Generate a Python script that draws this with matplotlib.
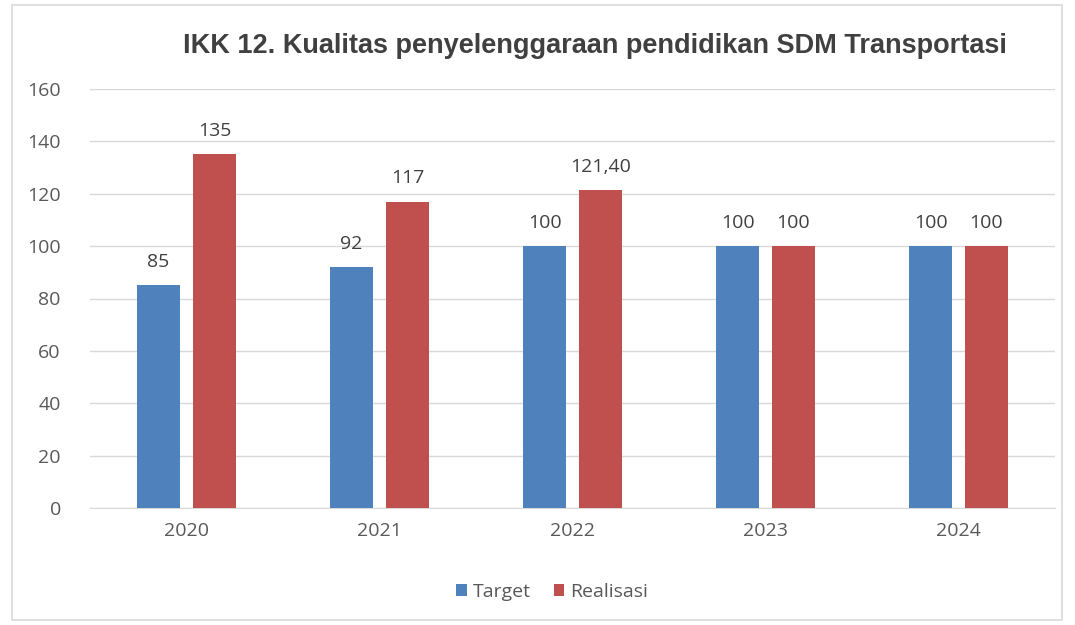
import matplotlib
matplotlib.use("Agg")
import matplotlib.pyplot as plt
from matplotlib.patches import Rectangle
import numpy as np

years = ["2020", "2021", "2022", "2023", "2024"]
target = [85, 92, 100, 100, 100]
realisasi = [135, 117, 121.4, 100, 100]
target_labels = ["85", "92", "100", "100", "100"]
realisasi_labels = ["135", "117", "121,40", "100", "100"]
yticks = [0, 20, 40, 60, 80, 100, 120, 140, 160]

title = "IKK 12. Kualitas penyelenggaraan pendidikan SDM Transportasi"
blue = "#4F81BD"
red = "#C0504D"
txt = "#595959"
fs = 14

fig = plt.figure(figsize=(10.75, 6.25), dpi=100)
fig.patch.set_facecolor("white")
# outer frame
fig.add_artist(Rectangle((12/1075, 1-620/625), (1062-12)/1075, (620-5)/625,
                         transform=fig.transFigure, fill=False, edgecolor="#D9D9D9", lw=1.2))

ax = fig.add_axes([90/1075, 1-508/625, (1055-90)/1075, (508-89)/625])
x = np.arange(len(years))
w = 0.222
off = 0.145
b1 = ax.bar(x - off, target, w, color=blue, zorder=3, label="Target")
b2 = ax.bar(x + off, realisasi, w, color=red, zorder=3, label="Realisasi")

for xi, v, s in zip(x - off, target, target_labels):
    ax.text(xi, v + 5.5, s, ha="center", va="bottom", fontsize=fs, color="#404040", family="Open Sans")
for xi, v, s in zip(x + off, realisasi, realisasi_labels):
    ax.text(xi, v + 5.5, s, ha="center", va="bottom", fontsize=fs, color="#404040", family="Open Sans")

ax.set_xlim(-0.5, len(years) - 0.5)
ax.set_ylim(0, 160)
ax.set_yticks(yticks)
ax.set_yticklabels([str(t) for t in yticks], fontsize=fs, color=txt, family="Open Sans")
ax.set_xticks(x)
ax.set_xticklabels(years, fontsize=fs, color=txt, family="Open Sans")
ax.tick_params(axis="both", length=0)
ax.tick_params(axis="y", pad=21)
ax.tick_params(axis="x", pad=10)
ax.grid(axis="y", color="#D9D9D9", lw=1, zorder=0)
for s in ["top", "right", "left"]:
    ax.spines[s].set_visible(False)
ax.spines["bottom"].set_color("#D9D9D9")

fig.text(595/1075, 1-46/625, title, ha="center", va="center", fontsize=19.5,
         fontweight="bold", color="#404040", family="Liberation Sans")

leg = fig.legend(handles=[b1, b2], loc="center", bbox_to_anchor=(552/1075, 1-592/625),
                 ncol=2, frameon=False, handlelength=0.55, handleheight=0.55,
                 handletextpad=0.3, columnspacing=1.2,
                 prop={"family": "Open Sans", "size": fs})
for t in leg.get_texts():
    t.set_color(txt)

fig.savefig("out.png", dpi=100)
